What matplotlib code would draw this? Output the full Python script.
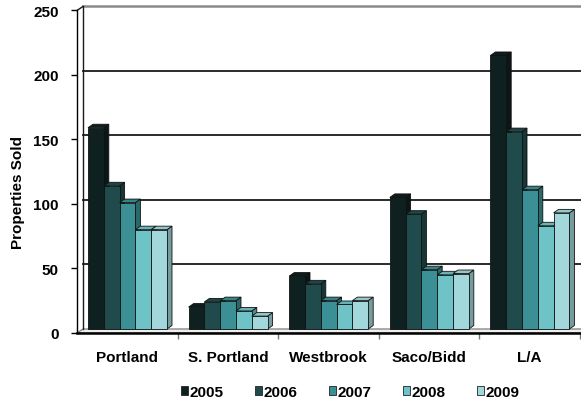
# coding:utf-8
# 地域別・年別の物件販売数 (疑似3Dの集合縦棒グラフ)
import numpy as np
import matplotlib
matplotlib.use("Agg")
from matplotlib import pyplot as plt
from matplotlib.patches import Polygon, Patch

areas = ["Portland", "S. Portland", "Westbrook", "Saco/Bidd", "L/A"]
years = ["2005", "2006", "2007", "2008", "2009"]
sold_2005 = [156, 17, 41, 102, 212]
sold_2006 = [111, 21, 35, 89, 153]
sold_2007 = [98, 22, 22, 46, 108]
sold_2008 = [77, 14, 19, 42, 80]
sold_2009 = [77, 10, 22, 43, 90]
y_ticks = [0, 50, 100, 150, 200, 250]

year_colors = ["#0f2020", "#1f4b4c", "#3a9094", "#6ec3c7", "#a2d8db"]

plt.rcParams["font.family"] = ["Liberation Sans", "DejaVu Sans"]
plt.rcParams["font.weight"] = "bold"

# 1px あたりのデータ単位
PX_X = 1 / 100.6
PX_Y = 1 / 1.29
# 奥の壁・床のずれ
WALL_DX, WALL_DY = 6 * PX_X, 4 * PX_Y
# 棒の奥行き
BAR_DX, BAR_DY = 5 * PX_X, 3.5 * PX_Y
BAR_W = 15.8 * PX_X
BAR_X0 = 11 * PX_X
BAR_BASE = 4 * PX_Y


def shade(color, k):
    rgb = np.array(matplotlib.colors.to_rgb(color))
    return tuple(np.clip(rgb * k, 0, 1))


def draw_bar(ax, x0, v, color, z):
    b = BAR_BASE
    front = [(x0, b), (x0 + BAR_W, b), (x0 + BAR_W, b + v), (x0, b + v)]
    top = [(x0, b + v), (x0 + BAR_W, b + v),
           (x0 + BAR_W + BAR_DX, b + v + BAR_DY), (x0 + BAR_DX, b + v + BAR_DY)]
    side = [(x0 + BAR_W, b), (x0 + BAR_W + BAR_DX, b + BAR_DY),
            (x0 + BAR_W + BAR_DX, b + v + BAR_DY), (x0 + BAR_W, b + v)]
    for pts, k in ((side, 0.72), (top, 0.92), (front, 1.0)):
        ax.add_patch(Polygon(pts, closed=True, facecolor=shade(color, k),
                             edgecolor="#111111", lw=0.6, zorder=z,
                             clip_on=False))


fig = plt.figure(figsize=(5.81, 4.02), dpi=100)
ax = fig.add_axes([77 / 581, 68 / 402, 503 / 581, 329 / 402])
ax.set_xlim(0, 5)
ax.set_ylim(0, 255)
ax.patch.set_visible(False)

for s in ["top", "right"]:
    ax.spines[s].set_visible(False)
ax.spines["left"].set_bounds(0, 250)
ax.spines["left"].set_linewidth(1.0)
ax.spines["bottom"].set_linewidth(1.8)
ax.spines["bottom"].set_zorder(6)

# 床
n = len(areas)
floor = [(0, 0), (n + 0.1, 0), (n + 0.1 + WALL_DX, WALL_DY), (WALL_DX, WALL_DY)]
ax.add_patch(Polygon(floor, closed=True, facecolor="#eeeeee",
                     edgecolor="#8a8a8a", lw=1.0, zorder=1, clip_on=False))

# 奥の壁の目盛線
for v in y_ticks[1:]:
    c = "#8a8a8a" if v == y_ticks[-1] else "#1a1a1a"
    lw = 1.8 if v == y_ticks[-1] else 1.3
    ax.plot([WALL_DX, n + 0.2], [v + WALL_DY] * 2, color=c, lw=lw,
            zorder=1, clip_on=False)

# 左の壁
ax.plot([WALL_DX, WALL_DX], [WALL_DY, 250 + WALL_DY], color="#1a1a1a",
        lw=1.0, zorder=2, clip_on=False)
ax.plot([0, WALL_DX], [250, 250 + WALL_DY], color="#1a1a1a", lw=1.0,
        zorder=2, clip_on=False)

# 棒
series = [sold_2005, sold_2006, sold_2007, sold_2008, sold_2009]
for i in range(n):
    for j, vals in enumerate(series):
        draw_bar(ax, i + BAR_X0 + j * BAR_W, vals[i], year_colors[j], 3 + j)

# 軸の目盛
ax.set_yticks(y_ticks)
ax.set_yticklabels([str(t) for t in y_ticks], fontsize=11, fontweight="bold")
ax.tick_params(axis="y", length=4, width=1, pad=9)

ax.set_xticks(np.arange(n) + 0.5)
ax.set_xticklabels(areas, fontsize=11, fontweight="bold")
ax.tick_params(axis="x", which="major", length=0, pad=12)
ax.set_xticks(np.arange(1, n + 1), minor=True)
ax.tick_params(axis="x", which="minor", length=4, width=1, color="#777777")

fig.text(18 / 581, 1 - 193 / 402, "Properties Sold", rotation=90,
         ha="center", va="center", fontsize=11, fontweight="bold")

handles = [Patch(facecolor=c, edgecolor="#222222", lw=0.6) for c in year_colors]
fig.legend(handles, years, loc="center", bbox_to_anchor=(350 / 581, 9 / 402),
           ncol=5, frameon=False, handlelength=0.46, handleheight=0.46,
           handletextpad=0.1, columnspacing=2.06, fontsize=11)

plt.savefig("out.png", dpi=100)
